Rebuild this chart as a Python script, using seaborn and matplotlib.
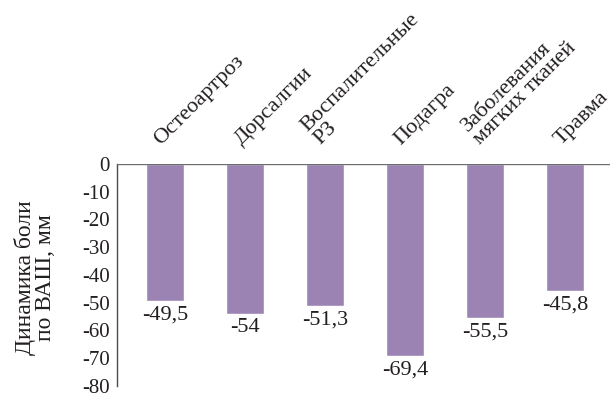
import matplotlib.pyplot as plt
import seaborn as sns
import pandas as pd

# данные: динамика боли по ВАШ
categories = ['Остеоартроз', 'Дорсалгии', 'Воспалительные\nРЗ', 'Подагра',
              'Заболевания\nмягких тканей', 'Травма']
values = [-49.5, -54, -51.3, -69.4, -55.5, -45.8]
value_labels = ['-49,5', '-54', '-51,3', '-69,4', '-55,5', '-45,8']
y_ticks = [0, -10, -20, -30, -40, -50, -60, -70, -80]

df = pd.DataFrame({'cat': categories, 'val': values})

sns.set_style('white')
plt.rcParams['font.family'] = ['Liberation Serif', 'DejaVu Serif']
text_color = '#231f20'

fig = plt.figure(figsize=(6.11, 3.97), dpi=100)
ax = fig.add_axes([117 / 611, 0.028, 493 / 611, 0.559])

sns.barplot(data=df, x='cat', y='val', color='#9b84b3', saturation=1,
            width=0.475, ax=ax, zorder=2)
ax.axhline(0, color='#6d6d6d', lw=1, zorder=3)

ax.set_ylim(-80, 0)
ax.set_xlim(-0.6, 5.56)
ax.set_yticks(y_ticks)
ax.set_yticklabels([str(t) for t in y_ticks], fontsize=15, color=text_color)
ax.tick_params(axis='y', direction='in', length=12, width=1, color='#4a4a4a', pad=5)
ax.tick_params(axis='x', bottom=False, labelbottom=False)
ax.set_xlabel('')
ax.set_ylabel('')

for s in ['top', 'right', 'bottom']:
    ax.spines[s].set_visible(False)
ax.spines['left'].set_color('#4a4a4a')
ax.spines['left'].set_linewidth(1)

fig.text(35 / 611, 1 - 278 / 397, 'Динамика боли\nпо ВАШ, мм', rotation=90,
         ha='center', va='center', multialignment='center', fontsize=17,
         color=text_color, linespacing=0.95)

# подписи значений под столбцами
for i, (v, lab) in enumerate(zip(values, value_labels)):
    ax.annotate(lab, (i, v), xytext=(0, -3), textcoords='offset points',
                ha='center', va='top', fontsize=16, color=text_color,
                annotation_clip=False)

# подписи категорий сверху под углом
for i, c in enumerate(categories):
    ax.annotate(c, (i, 0), xytext=(-3, 13), textcoords='offset points',
                rotation=45, rotation_mode='anchor', ha='left', va='baseline',
                fontsize=16, color=text_color, linespacing=0.95,
                annotation_clip=False)

fig.savefig('out.png', dpi=100)
